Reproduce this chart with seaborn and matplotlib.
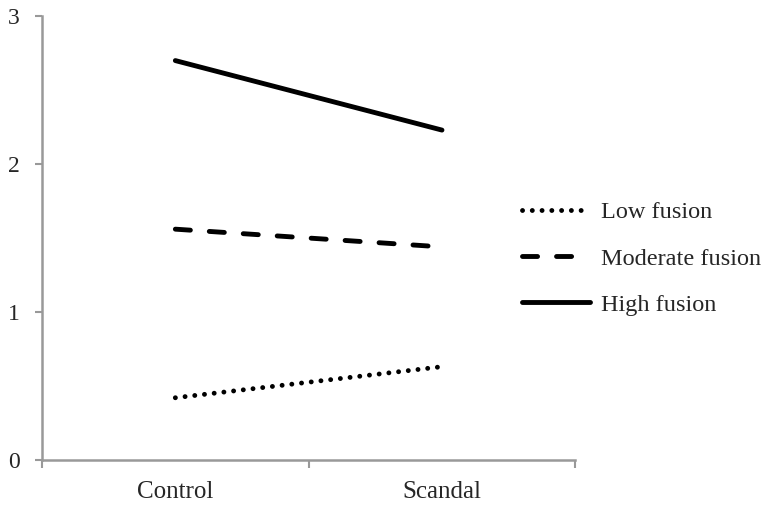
import pandas as pd
import matplotlib.pyplot as plt
import seaborn as sns

# Values
conditions = ['Control', 'Scandal']
low_fusion = [0.42, 0.63]
moderate_fusion = [1.56, 1.44]
high_fusion = [2.70, 2.23]
groups = ['Low fusion', 'Moderate fusion', 'High fusion']

df = pd.DataFrame({
    'Condition': conditions * 3,
    'x': [0, 1] * 3,
    'Value': low_fusion + moderate_fusion + high_fusion,
    'Group': [g for g in groups for _ in conditions],
})

sns.set_style('white')
plt.rcParams['font.family'] = ['Liberation Serif', 'DejaVu Serif']
plt.rcParams['lines.dash_capstyle'] = 'round'

fig = plt.figure(figsize=(7.64, 5.07), dpi=100)
ax = fig.add_axes([0.055, 0.093, 0.698, 0.875])

sns.lineplot(data=df, x='x', y='Value', hue='Group', style='Group',
             hue_order=groups, style_order=groups,
             palette=['black'] * 3,
             dashes={'Low fusion': (0.01, 2.0), 'Moderate fusion': (3.1, 3.9),
                     'High fusion': ''},
             linewidth=3.5, ax=ax, legend=True)

ax.set_xlim(-0.5, 1.5)
ax.set_ylim(0, 3)
ax.set_yticks([0, 1, 2, 3])
ax.set_xticks([0, 1])
ax.set_xticklabels(conditions)
ax.set_xticks([-0.5, 0.5, 1.5], minor=True)
ax.tick_params(axis='x', which='major', length=0, labelsize=18, pad=15)
ax.tick_params(axis='x', which='minor', length=6, color='#999999', width=1.5,
               direction='out', bottom=True)
ax.tick_params(axis='y', length=5, color='#999999', width=1.5,
               direction='out', labelsize=17, pad=11, left=True)
ax.set_xlabel('')
ax.set_ylabel('')

for side in ['top', 'right']:
    ax.spines[side].set_visible(False)
for side in ['left', 'bottom']:
    ax.spines[side].set_color('#999999')
    ax.spines[side].set_linewidth(1.8)

handles, labels = ax.get_legend_handles_labels()
ax.legend_.remove()
fig.legend(handles, labels, loc='center left', bbox_to_anchor=(0.655, 0.49),
           frameon=False, fontsize=17.5, handlelength=2.8, handletextpad=0.45,
           labelspacing=1.0)

plt.savefig('out.png', dpi=100)
